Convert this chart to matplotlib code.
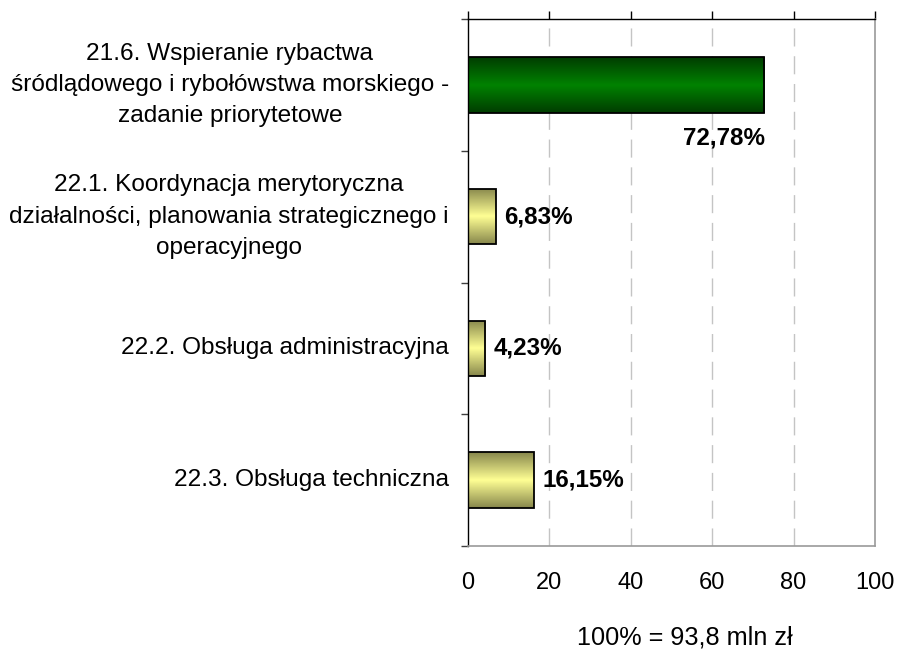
import numpy as np
import matplotlib
matplotlib.use("Agg")
import matplotlib.pyplot as plt
from matplotlib.colors import LinearSegmentedColormap
from matplotlib.ticker import FixedLocator
from matplotlib.transforms import ScaledTranslation

plt.rcParams["font.family"] = ["Liberation Sans", "DejaVu Sans"]

categories = [
    "21.6. Wspieranie rybactwa\nśródlądowego i rybołówstwa morskiego -\nzadanie priorytetowe",
    "22.1. Koordynacja merytoryczna\ndziałalności, planowania strategicznego i\noperacyjnego",
    "22.2. Obsługa administracyjna",
    "22.3. Obsługa techniczna",
]
shares = [72.78, 6.83, 4.23, 16.15]
share_labels = ["72,78%", "6,83%", "4,23%", "16,15%"]
x_ticks = [0, 20, 40, 60, 80, 100]
footnote = "100% = 93,8 mln zł"

# edge colour -> centre colour of the vertical gradient for each bar
green = ("#003c00", "#008200")
yellow = ("#87874c", "#ffff94")
bar_styles = [green, yellow, yellow, yellow]

DPI = 100
fig = plt.figure(figsize=(8.98, 6.5), dpi=DPI)
ax = fig.add_axes([468 / 898, 1 - 546 / 650, (875 - 468) / 898, (546 - 19) / 650])

bar_h = 0.42
ypos = np.arange(len(categories))

for y, val, (edge_c, mid_c) in zip(ypos, shares, bar_styles):
    cmap = LinearSegmentedColormap.from_list("g", [edge_c, mid_c, edge_c])
    grad = np.linspace(0, 1, 256).reshape(-1, 1)
    im = ax.imshow(grad, cmap=cmap, aspect="auto",
                   extent=[0, val, y + bar_h / 2, y - bar_h / 2],
                   interpolation="bilinear", zorder=2)
    rect = ax.barh(y, val, height=bar_h, facecolor="none",
                   edgecolor="black", linewidth=1.3, zorder=3)[0]
    im.set_clip_path(rect)

# value labels
for y, val, lab in zip(ypos, shares, share_labels):
    if val > 50:
        ax.text(val + 0.3, y + bar_h / 2 + 0.19, lab, ha="right", va="center",
                fontsize=17.4, fontweight="bold", zorder=4)
    else:
        ax.text(val + 2.1, y, lab, ha="left", va="center",
                fontsize=17.4, fontweight="bold", zorder=4)

ax.set_xlim(0, 100)
ax.set_ylim(len(categories) - 0.5, -0.5)

# vertical dashed gridlines
for xv in x_ticks[1:-1]:
    ax.axvline(xv, color="#c4c4c4", linewidth=1.0, linestyle=(0, (13, 7)), zorder=1)

ax.set_xticks(x_ticks)
ax.set_xticklabels([str(v) for v in x_ticks], fontsize=17)
ax.tick_params(axis="x", which="major", top=True, bottom=False,
               labeltop=False, labelbottom=True, direction="out",
               length=6, width=1, color="#000000", pad=13)

# category labels, centred line by line, right edge left of the axis
ax.set_yticks(ypos)
ax.set_yticklabels([])
ax.tick_params(axis="y", which="major", length=0)
shift = ScaledTranslation(-19 / DPI, 0, fig.dpi_scale_trans)
for y, lab in zip(ypos, categories):
    ax.text(0, y, lab, transform=ax.get_yaxis_transform() + shift,
            ha="right", va="center", multialignment="center",
            linespacing=1.55, fontsize=17.6, clip_on=False)

ax.yaxis.set_minor_locator(FixedLocator(np.arange(-0.5, len(categories), 1.0)))
ax.tick_params(axis="y", which="minor", length=5, width=1, color="#404040",
               direction="out")

for side in ("top", "left"):
    ax.spines[side].set_color("black")
    ax.spines[side].set_linewidth(1.0)
for side in ("right", "bottom"):
    ax.spines[side].set_color("#9a9a9a")
    ax.spines[side].set_linewidth(1.2)

fig.text(685 / 898, 1 - 637 / 650, footnote, ha="center", va="center", fontsize=18.2)

fig.savefig("out.png", dpi=DPI)
